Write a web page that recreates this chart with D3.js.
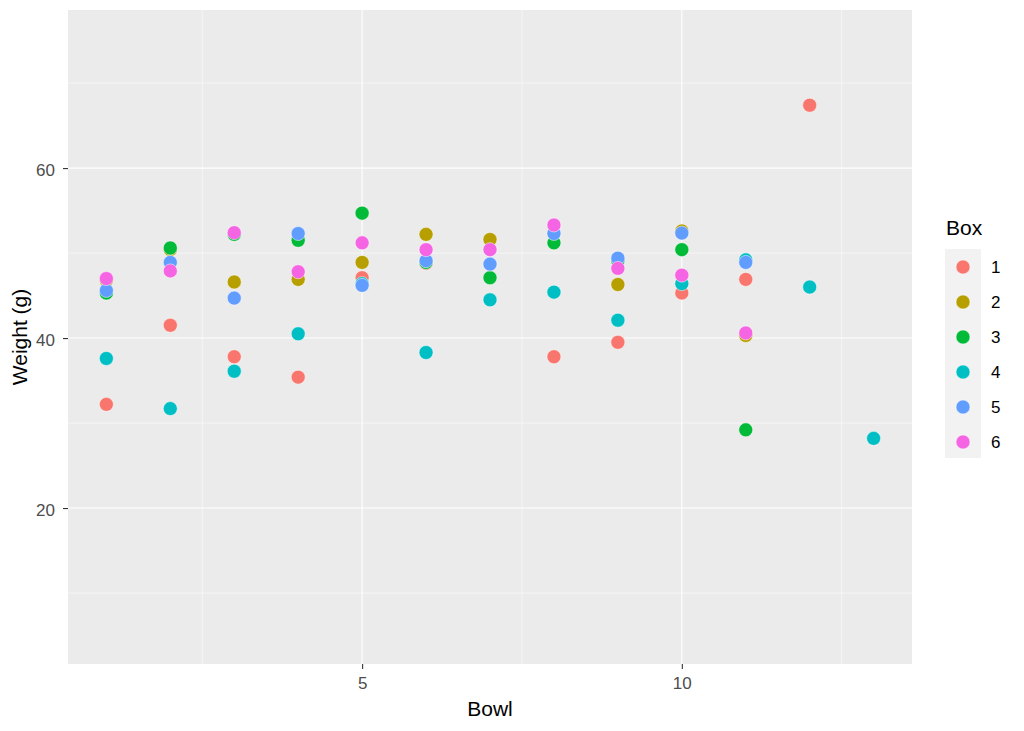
<!DOCTYPE html>
<html>
<head>
<meta charset="utf-8">
<script src="https://cdn.jsdelivr.net/npm/d3@7"></script>
<style>
  body { margin: 0; background: #fff; }
  svg { display: block; font-family: "Liberation Sans", Arial, sans-serif; }
</style>
</head>
<body>
<svg id="chart" width="1024" height="731"></svg>
<script>
const bowls = [1, 2, 3, 4, 5, 6, 7, 8, 9, 10, 11, 12, 13];
const boxes = ["1", "2", "3", "4", "5", "6"];
const box1 = [32.2, 41.5, 37.8, 35.4, 47.1, 48.8, null, 37.8, 39.5, 45.3, 46.9, 67.4, null];
const box2 = [46.8, 50.4, 46.6, 46.9, 48.9, 52.2, 51.6, null, 46.3, 52.6, 40.3, null, null];
const box3 = [45.3, 50.6, 52.2, 51.5, 54.7, 48.9, 47.1, 51.2, 49.1, 50.4, 29.2, null, null];
const box4 = [37.6, 31.7, 36.1, 40.5, 46.4, 38.3, 44.5, 45.4, 42.1, 46.4, 49.2, 46.0, 28.2];
const box5 = [45.6, 48.9, 44.7, 52.3, 46.2, 49.1, 48.7, 52.3, 49.4, 52.35, 48.9, null, null];
const box6 = [47.0, 47.9, 52.4, 47.8, 51.2, 50.4, 50.4, 53.3, 48.2, 47.4, 40.6, null, null];
const xTicks = [5, 10];
const xMinor = [2.5, 7.5, 12.5];
const yTicks = [20, 40, 60];
const yMinor = [10, 30, 50, 70];
const colors = ["#F8766D", "#B79F00", "#00BA38", "#00BFC4", "#619CFF", "#F564E3"];

const series = [box1, box2, box3, box4, box5, box6];
const points = [];
series.forEach((arr, bi) => {
  arr.forEach((v, i) => {
    if (v !== null) points.push({ bowl: bowls[i], weight: v, box: boxes[bi] });
  });
});

const svg = d3.select("#chart");
const panel = { left: 68, right: 912, top: 10, bottom: 664 };

const x = d3.scaleLinear().domain([0.4, 13.6]).range([panel.left, panel.right]);
const y = d3.scaleLinear().domain([1.65, 78.6]).range([panel.bottom, panel.top]);
const color = d3.scaleOrdinal().domain(boxes).range(colors);

svg.append("rect")
  .attr("x", panel.left).attr("y", panel.top)
  .attr("width", panel.right - panel.left).attr("height", panel.bottom - panel.top)
  .attr("fill", "#EBEBEB");

const grid = svg.append("g");
grid.selectAll(".ymin").data(yMinor).join("line")
  .attr("x1", panel.left).attr("x2", panel.right)
  .attr("y1", d => y(d)).attr("y2", d => y(d))
  .attr("stroke", "#fff").attr("stroke-width", 0.55);
grid.selectAll(".xmin").data(xMinor).join("line")
  .attr("y1", panel.top).attr("y2", panel.bottom)
  .attr("x1", d => x(d)).attr("x2", d => x(d))
  .attr("stroke", "#fff").attr("stroke-width", 0.55);
grid.selectAll(".ymaj").data(yTicks).join("line")
  .attr("x1", panel.left).attr("x2", panel.right)
  .attr("y1", d => y(d)).attr("y2", d => y(d))
  .attr("stroke", "#fff").attr("stroke-width", 1.1);
grid.selectAll(".xmaj").data(xTicks).join("line")
  .attr("y1", panel.top).attr("y2", panel.bottom)
  .attr("x1", d => x(d)).attr("x2", d => x(d))
  .attr("stroke", "#fff").attr("stroke-width", 1.1);

// points
svg.append("g").selectAll("circle").data(points).join("circle")
  .attr("cx", d => x(d.bowl))
  .attr("cy", d => y(d.weight))
  .attr("r", 7)
  .attr("fill", d => color(d.box))
  .attr("stroke", "#fff")
  .attr("stroke-width", 0.5);

// axes
const xAxis = d3.axisBottom(x).tickValues(xTicks).tickSize(5).tickPadding(8);
const gx = svg.append("g").attr("transform", `translate(0,${panel.bottom})`).call(xAxis);
gx.select(".domain").remove();
gx.selectAll(".tick line").attr("stroke", "#333333").attr("stroke-width", 1.1);
gx.selectAll(".tick text").attr("fill", "#4D4D4D").attr("font-size", 17)
  .attr("font-family", "Liberation Sans, Arial, sans-serif");

const yAxis = d3.axisLeft(y).tickValues(yTicks).tickSize(5).tickPadding(8);
const gy = svg.append("g").attr("transform", `translate(${panel.left},0)`).call(yAxis);
gy.select(".domain").remove();
gy.selectAll(".tick line").attr("stroke", "#333333").attr("stroke-width", 1.1);
gy.selectAll(".tick text").attr("fill", "#4D4D4D").attr("font-size", 17).attr("dy", "0.42em")
  .attr("font-family", "Liberation Sans, Arial, sans-serif");

svg.append("text")
  .attr("x", (panel.left + panel.right) / 2).attr("y", 716)
  .attr("text-anchor", "middle").attr("font-size", 21).attr("fill", "#000")
  .text("Bowl");

svg.append("text")
  .attr("transform", `translate(27,${(panel.top + panel.bottom) / 2}) rotate(-90)`)
  .attr("text-anchor", "middle").attr("font-size", 21).attr("fill", "#000")
  .text("Weight (g)");

// legend
const leg = svg.append("g");
leg.append("text").attr("x", 946).attr("y", 235).attr("font-size", 21).attr("fill", "#000").text("Box");
leg.append("rect").attr("x", 945).attr("y", 249).attr("width", 36).attr("height", 209).attr("fill", "#F2F2F2");
const ly = d3.scalePoint().domain(boxes).range([267, 442]);
leg.selectAll("circle").data(boxes).join("circle")
  .attr("cx", 963).attr("cy", d => ly(d)).attr("r", 7)
  .attr("fill", d => color(d)).attr("stroke", "#fff").attr("stroke-width", 0.5);
leg.selectAll(".lab").data(boxes).join("text")
  .attr("x", 991).attr("y", d => ly(d)).attr("dy", "0.36em")
  .attr("font-size", 17).attr("fill", "#000").text(d => d);
</script>
</body>
</html>
